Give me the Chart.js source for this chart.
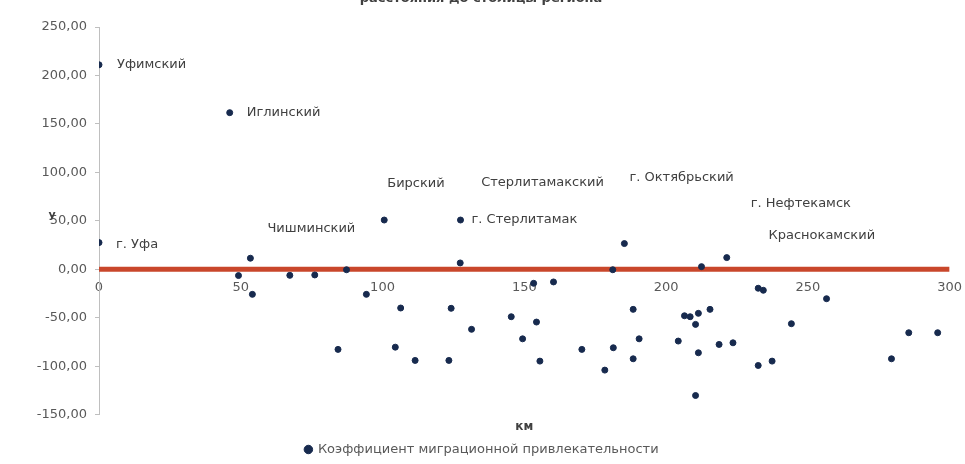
<!DOCTYPE html>
<html lang="ru">
<head>
<meta charset="utf-8">
<title>Коэффициент миграционной привлекательности</title>
<script src="https://cdn.jsdelivr.net/npm/chart.js@4"></script>
<style>
    html, body { margin: 0; padding: 0; background: #ffffff; }
    #wrap { width: 965px; height: 464px; }
</style>
</head>
<body>
<div id="wrap"><canvas id="migrationChart" width="965" height="464"></canvas></div>
<script>
// Data: distance to the regional capital (km) and the coefficient
const distanceKm = [
    0, 46.1, 0, 53.4, 49.2, 54.1, 67.3, 76.1, 87.3, 94.3,
    106.4, 84.3, 104.5, 111.5, 100.6, 127.5, 127.4, 153.3, 160.3, 124.2,
    145.4, 154.3, 131.4, 149.4, 170.3, 123.4, 155.5, 185.3, 221.4, 212.5,
    181.2, 232.5, 234.3, 256.6, 188.4, 206.5, 208.5, 211.4, 210.4, 215.5,
    244.2, 285.6, 295.8, 190.5, 204.3, 218.7, 223.6, 181.4, 211.4, 188.4,
    178.4, 232.5, 237.4, 279.5, 210.4
];
const coefficient = [
    211, 161.6, 27.5, 11.4, -6.5, -25.9, -6.3, -5.9, -0.5, -25.9,
    -40, -82.7, -80.4, -94.1, 50.8, 50.8, 6.5, -14.5, -13.1, -40.3,
    -49, -54.5, -62, -71.8, -82.7, -94.1, -94.8, 26.5, 12, 2.7,
    -0.5, -19.6, -21.7, -30.4, -41.4, -48, -49, -45.5, -56.9, -41.4,
    -56.2, -65.5, -65.5, -71.8, -74.1, -77.6, -75.9, -81, -86.2, -92.4,
    -104.1, -99.3, -94.8, -92.4, -130.3
];
const districtNames = [
    'Уфимский', 'Иглинский', 'г. Уфа', 'Чишминский', '', '', '', '', '', '',
    '', '', '', '', 'Бирский', 'г. Стерлитамак', 'Стерлитамакский', '', '', '',
    '', '', '', '', '', '', '', 'г. Октябрьский', 'г. Нефтекамск', 'Краснокамский',
    '', '', '', '', '', '', '', '', '', '',
    '', '', '', '', '', '', '', '', '', '',
    '', '', '', '', ''
];
const zeroLineX = [0, 300];
const zeroLineY = [0, 0];
const xTickValues = [0, 50, 100, 150, 200, 250, 300];
const yTickValues = [-150, -100, -50, 0, 50, 100, 150, 200, 250];
const seriesName = 'Коэффициент миграционной привлекательности';
const titleTail = 'расстояния до столицы региона';
const xAxisTitle = 'км';
const yAxisTitle = 'у';

// where each data label sits relative to its point (px)
const labelShift = {
    'Уфимский': [18, 0],
    'Иглинский': [17, 0],
    'г. Уфа': [17, 2],
    'Чишминский': [17, -30],
    'Бирский': [3, -36],
    'Стерлитамакский': [21, -80],
    'г. Стерлитамак': [11, 0],
    'г. Октябрьский': [5, -66],
    'г. Нефтекамск': [24, -54],
    'Краснокамский': [67, -31]
};

const textGray = '#595959';
const fontFamily = '"DejaVu Sans", sans-serif';

const annotations = {
    id: 'annotations',
    afterDatasetsDraw(chart) {
        const ctx = chart.ctx;
        const xs = chart.scales.x;
        const ys = chart.scales.y;
        ctx.save();
        ctx.fillStyle = '#404040';
        ctx.textBaseline = 'middle';
        ctx.textAlign = 'left';
        ctx.font = '13px ' + fontFamily;
        districtNames.forEach((name, i) => {
            if (!name) return;
            const shift = labelShift[name] || [10, 0];
            ctx.fillText(name, xs.getPixelForValue(distanceKm[i]) + shift[0], ys.getPixelForValue(coefficient[i]) + shift[1]);
        });
        // axis title for y, horizontal like in the source
        ctx.font = 'bold 11px ' + fontFamily;
        ctx.textAlign = 'center';
        ctx.fillText(yAxisTitle, 52, 215);
        // what is left of the cut-off chart title
        ctx.font = 'bold 13px ' + fontFamily;
        ctx.textBaseline = 'alphabetic';
        ctx.fillText(titleTail, 481, 2);
        ctx.restore();
    }
};

new Chart(document.getElementById('migrationChart'), {
    data: {
        datasets: [{
            type: 'scatter',
            label: seriesName,
            data: distanceKm.map((x, i) => ({ x: x, y: coefficient[i] })),
            backgroundColor: '#172a4e',
            borderColor: '#172a4e',
            pointRadius: 3,
            pointHoverRadius: 3,
            order: 1
        }, {
            type: 'line',
            label: 'zero',
            data: zeroLineX.map((x, i) => ({ x: x, y: zeroLineY[i] })),
            borderColor: '#c9472b',
            borderWidth: 5,
            pointRadius: 0,
            fill: false,
            order: 2
        }]
    },
    options: {
        responsive: false,
        animation: false,
        devicePixelRatio: 1,
        layout: { padding: { top: 27, right: 1, left: 0, bottom: -2 } },
        scales: {
            x: {
                type: 'linear',
                min: 0,
                max: 300,
                position: { y: 0 },
                afterFit: scale => { scale.height = 0; },
                afterBuildTicks: scale => { scale.ticks = xTickValues.map(v => ({ value: v })); },
                grid: { display: false },
                border: { display: false },
                ticks: {
                    padding: 3,
                    color: textGray,
                    maxRotation: 0,
                    autoSkip: false,
                    font: { family: fontFamily, size: 13 }
                }
            },
            y: {
                type: 'linear',
                min: -150,
                max: 250,
                afterFit: scale => { scale.width = 99; },
                afterBuildTicks: scale => { scale.ticks = yTickValues.map(v => ({ value: v })); },
                grid: { drawOnChartArea: false, tickLength: 4, color: '#bfbfbf' },
                border: { color: '#bfbfbf' },
                ticks: {
                    padding: 8,
                    color: textGray,
                    font: { family: fontFamily, size: 13 },
                    callback: v => v.toFixed(2).replace('.', ',')
                }
            }
        },
        plugins: {
            title: {
                display: true,
                text: xAxisTitle,
                position: 'bottom',
                fullSize: false,
                weight: 500,
                color: '#404040',
                font: { family: fontFamily, size: 12, weight: 'bold' },
                padding: { top: 5, bottom: 0 }
            },
            legend: {
                position: 'bottom',
                labels: {
                    filter: item => item.datasetIndex === 0,
                    usePointStyle: true,
                    pointStyle: 'circle',
                    boxWidth: 6,
                    boxHeight: 6,
                    padding: 9,
                    color: textGray,
                    font: { family: fontFamily, size: 13 }
                }
            },
            tooltip: { enabled: false }
        }
    },
    plugins: [annotations]
});
</script>
</body>
</html>
